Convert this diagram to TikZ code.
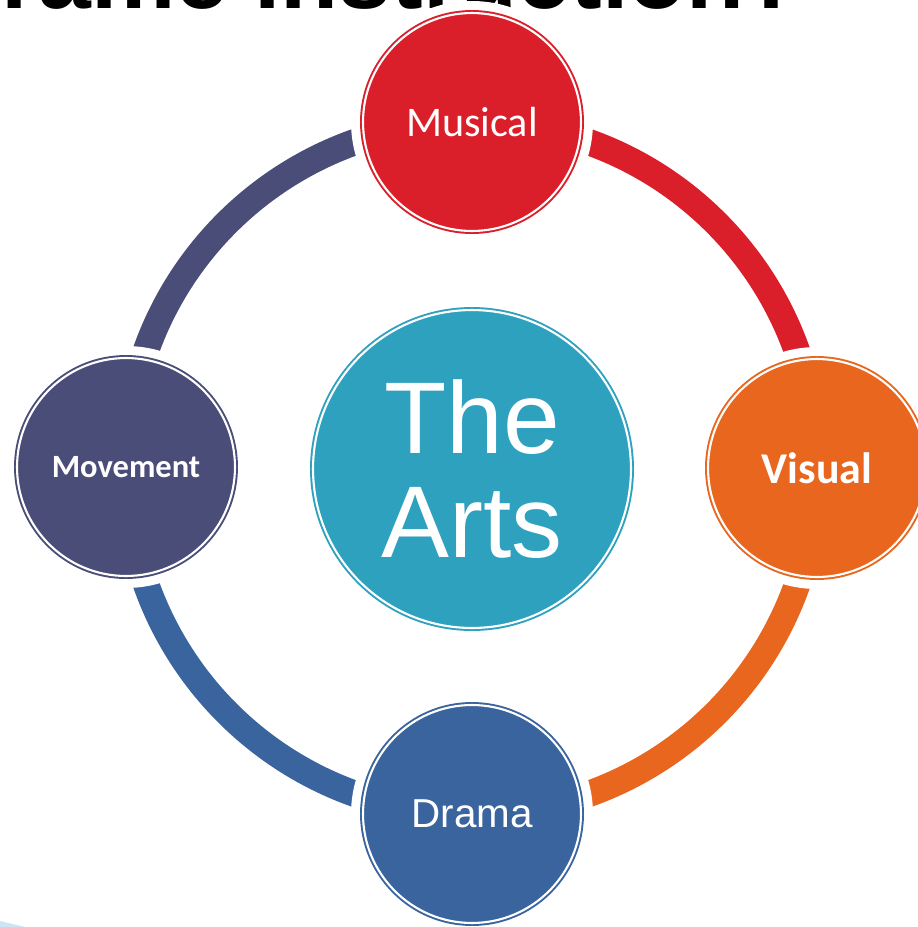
\documentclass[tikz,border=0pt]{standalone}
\usepackage{fontspec}
\setmainfont{Liberation Sans}
\newfontfamily\carlito{Carlito}
\usetikzlibrary{backgrounds}
\definecolor{musicalred}{RGB}{218,31,42}
\definecolor{visualorange}{RGB}{232,102,30}
\definecolor{dramablue}{RGB}{58,100,158}
\definecolor{movementnavy}{RGB}{74,77,120}
\definecolor{artsteal}{RGB}{46,161,191}
\definecolor{cornerblue}{RGB}{205,228,242}

\begin{document}
\begin{tikzpicture}[x=0.02cm, y=-0.02cm,
    art/.style={circle, inner sep=0pt, minimum size=4.36cm, fill=#1, draw=white,
        line width=1.2pt, preaction={draw=#1, line width=3.4pt}, text=white},
    band/.style={draw=#1, line width=15pt},
    halo/.style={fill=white}]
    \useasboundingbox (0,0) rectangle (918,927);

    \node [art=artsteal, minimum size=6.36cm, align=center,
        font=\fontsize{58}{59}\selectfont] (arts) at (472,469) {The\\Arts};
    \node [art=musicalred, font=\carlito\fontsize{24}{28}\selectfont]
        (musical) at (472,122) {Musical};
    \node [art=visualorange, font=\carlito\bfseries\fontsize{25}{28}\selectfont]
        (visual) at (817,468) {Visual};
    \node [art=dramablue, font=\fontsize{23}{28}\selectfont]
        (drama) at (472,814) {Drama};
    \node [art=movementnavy, font=\carlito\bfseries\fontsize{18.5}{22}\selectfont]
        (movement) at (126,467) {Movement};

    \begin{pgfonlayer}{background}
        \node [anchor=south east, inner sep=0pt, font=\bfseries\fontsize{54}{60}\selectfont]
            (title) at (803,10) {Frame instruction?};
        \fill [cornerblue] (0,921) -- (25,927) -- (0,927) -- cycle;
        % the ring, cut open round each circle
        \draw [band=musicalred] (musical.center) to [out=0, in=90] (visual.center);
        \draw [band=visualorange] (visual.center) to [out=270, in=0] (drama.center);
        \draw [band=dramablue] (drama.center) to [out=180, in=270] (movement.center);
        \draw [band=movementnavy] (movement.center) to [out=90, in=180] (musical.center);
        \foreach \n in {musical,visual,drama,movement}
            \fill [halo] (\n.center) circle [radius=2.42cm];
    \end{pgfonlayer}
\end{tikzpicture}
\end{document}
